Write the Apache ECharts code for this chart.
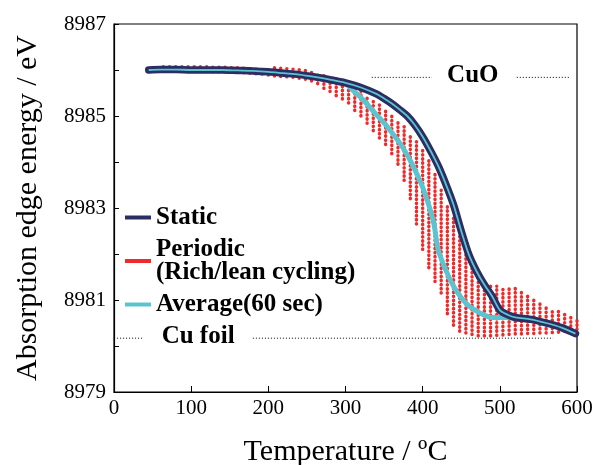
<!DOCTYPE html>
<html>
<head>
<meta charset="utf-8">
<script src="https://cdn.jsdelivr.net/npm/echarts@6/dist/echarts.min.js"></script>
<style>
  html, body { margin: 0; padding: 0; background: #fff; }
  #chart { width: 593px; height: 465px; }
</style>
</head>
<body>
<div id="chart"></div>
<script>
// values (temperature in degC, edge energy in eV)
const staticT = [45, 60, 80, 100, 120, 140, 160, 180, 200, 220, 240, 260, 280, 300, 320, 340, 350, 360, 370, 380, 390, 400, 410, 420, 430, 440, 450, 460, 470, 480, 490, 500, 510, 520, 540, 560, 580, 598]
const staticE = [8986.00, 8986.01, 8986.01, 8986.00, 8986.00, 8986.00, 8985.99, 8985.98, 8985.96, 8985.93, 8985.90, 8985.85, 8985.79, 8985.72, 8985.62, 8985.48, 8985.38, 8985.27, 8985.14, 8985.00, 8984.80, 8984.55, 8984.25, 8983.92, 8983.52, 8983.07, 8982.50, 8981.98, 8981.62, 8981.33, 8981.08, 8980.78, 8980.68, 8980.62, 8980.58, 8980.50, 8980.40, 8980.27]

const averageT = [45, 60, 80, 100, 120, 140, 160, 180, 200, 220, 240, 260, 280, 300, 310, 320, 330, 340, 350, 360, 370, 380, 390, 400, 410, 415, 420, 430, 440, 450, 460, 470, 480, 490, 500, 510, 520, 540, 560, 580, 598]
const averageE = [8986.00, 8986.01, 8986.01, 8986.00, 8986.00, 8986.00, 8985.99, 8985.98, 8985.96, 8985.93, 8985.90, 8985.85, 8985.79, 8985.70, 8985.55, 8985.40, 8985.22, 8985.03, 8984.85, 8984.64, 8984.42, 8984.15, 8983.83, 8983.45, 8982.95, 8982.62, 8982.10, 8981.65, 8981.30, 8981.05, 8980.87, 8980.76, 8980.67, 8980.62, 8980.62, 8980.62, 8980.60, 8980.58, 8980.50, 8980.40, 8980.27]

// periodic (rich/lean) run: each cycle spans low..high at one temperature
const periodicT = [64, 72, 80, 88, 96, 104, 112, 120, 128, 136, 144, 152, 160, 168, 176, 184, 192, 200, 208, 216, 224, 232, 240, 248, 256, 264, 272, 280, 288, 296, 304, 312, 320, 328, 336, 344, 352, 360, 368, 376, 384, 392, 400, 408, 416, 424, 432, 440, 448, 456, 464, 472, 480, 488, 496, 504, 512, 520, 528, 536, 544, 552, 560, 568, 576, 584, 592, 600]
const periodicLow = [8985.97, 8985.97, 8985.97, 8985.97, 8985.97, 8985.97, 8985.97, 8985.97, 8985.96, 8985.96, 8985.96, 8985.95, 8985.95, 8985.94, 8985.93, 8985.92, 8985.91, 8985.89, 8985.87, 8985.86, 8985.85, 8985.84, 8985.82, 8985.80, 8985.76, 8985.70, 8985.60, 8985.53, 8985.44, 8985.37, 8985.28, 8985.12, 8985.00, 8984.84, 8984.68, 8984.52, 8984.38, 8984.18, 8983.95, 8983.60, 8983.20, 8982.65, 8982.10, 8981.70, 8981.40, 8981.15, 8980.70, 8980.45, 8980.32, 8980.28, 8980.25, 8980.22, 8980.22, 8980.22, 8980.23, 8980.24, 8980.25, 8980.26, 8980.26, 8980.27, 8980.27, 8980.28, 8980.28, 8980.29, 8980.30, 8980.32, 8980.34, 8980.36]
const periodicHigh = [8986.07, 8986.10, 8986.12, 8986.13, 8986.11, 8986.10, 8986.11, 8986.09, 8986.10, 8986.09, 8986.08, 8986.09, 8986.08, 8986.08, 8986.07, 8986.07, 8986.06, 8986.06, 8986.05, 8986.04, 8986.03, 8986.02, 8986.01, 8985.99, 8985.97, 8985.95, 8985.92, 8985.88, 8985.83, 8985.77, 8985.71, 8985.63, 8985.54, 8985.44, 8985.34, 8985.24, 8985.14, 8985.03, 8984.92, 8984.78, 8984.62, 8984.45, 8984.28, 8984.08, 8983.78, 8983.40, 8983.05, 8982.78, 8982.42, 8982.08, 8981.80, 8981.55, 8981.42, 8981.34, 8981.30, 8981.30, 8981.30, 8981.25, 8981.17, 8981.08, 8981.00, 8980.93, 8980.86, 8980.80, 8980.75, 8980.70, 8980.66, 8980.62]

// reference energies (dotted lines) and where their labels sit
const cuoE = 8985.84
const cuFoilE = 8980.17
const cuoLineT = [334, 412, 522, 592]
const cuFoilLineT = [4, 39, 180, 569]
const labelNames = ['CuO', 'Cu foil']
const labelT = [465, 109]

const NAVY = '#2b2e63'
const CYAN = '#5cc4cf'
const RED = '#ee2b2b'
const FONT = 'Liberation Serif'

const zip = (xs, ys) => xs.map((x, i) => [x, ys[i]])
const refLine = (ts, e) => [[ts[0], e], [ts[1], e], [(ts[1] + ts[2]) / 2, '-'], [ts[2], e], [ts[3], e]]

const chart = echarts.init(document.getElementById('chart'))

const option = {
  animation: false,
  backgroundColor: '#fff',
  grid: {
    left: 114,
    top: 24,
    right: 16,
    bottom: 73,
    outerBoundsMode: 'none',
    show: true,
    borderColor: '#000',
    borderWidth: 1.2,
  },
  legend: {
    data: ['Static', 'Periodic\n(Rich/lean cycling)', 'Average(60 sec)'],
    orient: 'vertical',
    left: 120,
    top: 200,
    icon: 'rect',
    itemWidth: 26,
    itemHeight: 4,
    itemGap: 7,
    selectedMode: false,
    textStyle: {
      fontFamily: FONT,
      fontWeight: 'bold',
      fontSize: 25,
      lineHeight: 23,
      color: '#000',
    },
  },
  xAxis: {
    type: 'value',
    min: 0,
    max: 600,
    interval: 100,
    name: 'Temperature / ºC',
    nameLocation: 'middle',
    nameGap: 45,
    nameTextStyle: { fontFamily: FONT, fontSize: 30, color: '#000' },
    axisLine: { lineStyle: { color: '#000', width: 1.2 } },
    axisTick: { inside: true, length: 6, lineStyle: { color: '#000' } },
    axisLabel: { fontFamily: FONT, fontSize: 21, color: '#000', margin: 6 },
    splitLine: { show: false },
  },
  yAxis: {
    type: 'value',
    min: 8979,
    max: 8987,
    interval: 1,
    name: 'Absorption edge energy / eV',
    nameLocation: 'middle',
    nameGap: 71,
    nameTextStyle: { fontFamily: FONT, fontSize: 30, color: '#000' },
    axisLine: { lineStyle: { color: '#000', width: 1.2 } },
    axisTick: { inside: true, length: 5, lineStyle: { color: '#000' } },
    axisLabel: {
      fontFamily: FONT,
      fontSize: 21,
      color: '#000',
      margin: 8,
      formatter: v => (v % 2 === 1 ? String(v) : ''),
    },
    splitLine: { show: false },
  },
  series: [
    {
      name: 'cuo-ref',
      type: 'line',
      data: refLine(cuoLineT, cuoE),
      symbol: 'none',
      lineStyle: { color: '#000', width: 1, type: [1, 2] },
      z: 1,
    },
    {
      name: 'cu-foil-ref',
      type: 'line',
      data: refLine(cuFoilLineT, cuFoilE),
      symbol: 'none',
      lineStyle: { color: '#000', width: 1, type: [1, 2] },
      z: 1,
    },
    {
      name: 'ref-labels',
      type: 'scatter',
      symbolSize: 0,
      itemStyle: { opacity: 1 },
      data: [
        { name: labelNames[0], value: [labelT[0], cuoE] },
        { name: labelNames[1], value: [labelT[1], cuFoilE] },
      ],
      label: {
        show: true,
        position: 'inside',
        formatter: p => p.name,
        fontFamily: FONT,
        fontWeight: 'bold',
        fontSize: 25,
        color: '#000',
        opacity: 1,
        textBorderWidth: 0,
        offset: [0, -2],
      },
      z: 6,
    },
    {
      name: 'Periodic\n(Rich/lean cycling)',
      type: 'custom',
      itemStyle: { color: RED },
      data: periodicT.map((t, i) => [t, periodicLow[i], periodicHigh[i]]),
      encode: { x: 0, y: [1, 2] },
      renderItem: (params, api) => {
        const lo = api.coord([api.value(0), api.value(1)])
        const hi = api.coord([api.value(0), api.value(2)])
        return {
          type: 'line',
          shape: { x1: lo[0], y1: lo[1], x2: hi[0], y2: hi[1] },
          style: {
            stroke: RED,
            lineWidth: 3.4,
            lineCap: 'round',
            lineDash: [0.5, 3.6],
          },
        }
      },
      z: 2,
    },
    {
      name: 'Average(60 sec)',
      type: 'line',
      data: zip(averageT, averageE),
      symbol: 'none',
      smooth: 0.3,
      color: CYAN,
      lineStyle: { color: CYAN, width: 5, cap: 'round' },
      z: 3,
    },
    {
      name: 'Static',
      type: 'line',
      data: zip(staticT, staticE),
      symbol: 'none',
      smooth: 0.3,
      color: NAVY,
      lineStyle: { color: NAVY, width: 7.5, cap: 'round' },
      z: 4,
    },
    {
      name: 'static-core',
      type: 'line',
      data: zip(staticT, staticE),
      symbol: 'none',
      smooth: 0.3,
      lineStyle: { color: CYAN, width: 1.8 },
      z: 5,
    },
  ],
}

chart.setOption(option)
window.addEventListener('resize', () => {
  chart && chart.resize()
})
</script>
</body>
</html>
